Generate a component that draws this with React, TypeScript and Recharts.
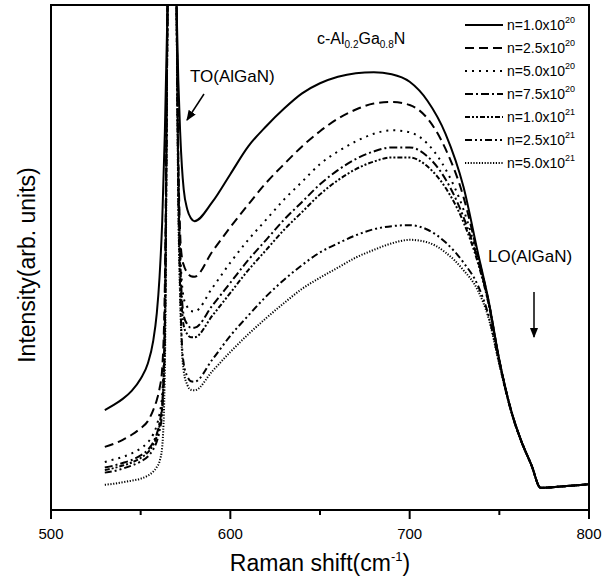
import { LineChart, Line, XAxis, YAxis, ReferenceArea } from "recharts";

// Raman shift (cm^-1) sample positions
const shift = [
  530, 535, 540, 545, 550, 554, 557, 559, 560.5, 562, 563.5, 565,
  567.5, 570, 571, 572, 573, 574, 576, 578, 580,
  590, 600, 610, 620, 630, 640, 650, 660, 670, 680,
  690, 700, 710, 720, 730, 738, 744, 750, 757, 762,
  768, 773, 786, 800,
];

// intensity (arb. units) for each carrier density
const n1e20 = [
  19.8, 20.8, 22, 23.6, 26, 29, 33.5, 39, 46, 57, 75, 100,
  150, 100, 85, 75, 68, 63.5, 59.5, 57.8, 57.2,
  61, 66.5, 72, 76, 79.5, 82.5, 84.5, 85.8, 86.5, 86.7,
  86.3, 84.8, 81, 74.5, 64, 51, 41.5, 29.7, 19.2, 13.9,
  8.8, 4.4, 4.7, 5.1,
];
const n25e20 = [
  12.5, 13.1, 13.9, 14.9, 16.2, 17.6, 19.8, 21.8, 24, 28, 45, 100,
  150, 100, 70, 55, 50, 48.5, 47, 46.3, 46.2,
  51.2, 56, 60.5, 64.8, 68.5, 72, 75, 77.5, 79.3, 80.5,
  80.8, 80.2, 77.5, 71.5, 62, 50.5, 41.3, 29.6, 19.2, 13.9,
  8.8, 4.4, 4.7, 5.1,
];
const n5e20 = [
  9.5, 10, 10.5, 11.2, 12.2, 13.4, 15, 16.8, 19, 23, 40, 100,
  150, 100, 68, 52, 45, 42, 40.2, 39.4, 39.3,
  44, 49, 53.5, 57.5, 61.5, 65, 68.5, 71, 73, 74.5,
  75.2, 74.8, 72.5, 67.5, 59.5, 50, 41.2, 29.6, 19.2, 13.9,
  8.8, 4.4, 4.7, 5.1,
];
const n75e20 = [
  8.4, 8.8, 9.3, 9.9, 10.8, 11.9, 13.4, 15.1, 17.2, 21, 37, 100,
  150, 100, 66, 50, 42, 38.5, 36.8, 36.1, 36.1,
  40.5, 45, 49.5, 53.5, 57.5, 61, 64.5, 67.3, 69.5, 71,
  71.8, 71.8, 70, 65.5, 58, 49.5, 41, 29.5, 19.1, 13.9,
  8.8, 4.4, 4.7, 5.1,
];
const n1e21 = [
  7.9, 8.3, 8.8, 9.4, 10.3, 11.4, 12.9, 14.6, 16.7, 20.5, 36, 100,
  150, 100, 65, 48, 40, 36.5, 34.8, 34.2, 34.2,
  38.5, 43, 47.5, 51.5, 55.5, 59, 62.5, 65.3, 67.5, 69,
  69.8, 69.8, 68, 63.8, 57, 49, 40.8, 29.5, 19.1, 13.9,
  8.8, 4.4, 4.7, 5.1,
];
const n25e21 = [
  7.4, 7.7, 8.2, 8.8, 9.6, 10.6, 12, 13.6, 15.6, 19.5, 34, 100,
  150, 100, 62, 44, 33, 29, 26.5, 25.5, 25.4,
  29.8, 34.5, 38.5, 42.3, 45.6, 48.5, 51, 52.8, 54.4, 55.6,
  56.2, 56.4, 55.5, 53, 49, 44.5, 38.5, 29, 19, 13.8,
  8.8, 4.4, 4.7, 5.1,
];
const n5e21 = [
  5.0, 5.2, 5.5, 5.8, 6.2, 6.8, 7.6, 8.5, 9.6, 12.5, 28, 100,
  150, 100, 60, 42, 31.7, 27.5, 24.8, 23.8, 23.7,
  27.5, 31.3, 34.8, 38, 41, 43.8, 46, 48, 50, 51.5,
  52.8, 53.5, 53, 51, 47.5, 43.5, 38, 28.8, 19, 13.8,
  8.8, 4.4, 4.7, 5.1,
];

const xTicks = [500, 550, 600, 650, 700, 750, 800];

const series = [
  { key: "a", mant: "1.0", exp: "20", values: n1e20, dash: undefined },
  { key: "b", mant: "2.5", exp: "20", values: n25e20, dash: "9 5" },
  { key: "c", mant: "5.0", exp: "20", values: n5e20, dash: "2 5" },
  { key: "d", mant: "7.5", exp: "20", values: n75e20, dash: "8 3 2 3" },
  { key: "e", mant: "1.0", exp: "21", values: n1e21, dash: "5 2 2 2 2 2" },
  { key: "f", mant: "2.5", exp: "21", values: n25e21, dash: "7 3 2 3 2 3" },
  { key: "g", mant: "5.0", exp: "21", values: n5e21, dash: "1.2 1.6" },
];

const rows = shift.map((x, i) => {
  const row: Record<string, number> = { x };
  series.forEach((s) => (row[s.key] = s.values[i]));
  return row;
});

const FONT = "'Liberation Sans', Arial, sans-serif";

function XTick(props: any) {
  const { x, y, payload } = props;
  const major = payload.value % 100 === 0;
  return (
    <g>
      <line x1={x} x2={x} y1={y} y2={y + (major ? 9 : 5)} stroke="#000" strokeWidth={2} />
      {major && (
        <text x={x} y={y + 29} textAnchor="middle" fontSize={15} fontFamily={FONT} fill="#000">
          {payload.value}
        </text>
      )}
    </g>
  );
}

export default function App() {
  return (
    <div style={{ position: "absolute", left: 0, top: 0, width: 613, height: 584, background: "#fff" }}>
      <LineChart width={613} height={584} data={rows} margin={{ top: 5, right: 24, bottom: 0, left: 0 }}>
        <XAxis
          dataKey="x"
          type="number"
          domain={[500, 800]}
          ticks={xTicks}
          interval={0}
          height={74}
          axisLine={false}
          tickLine={false}
          tickSize={0}
          tickMargin={0}
          tick={<XTick />}
          allowDataOverflow
        />
        <YAxis type="number" domain={[0, 100]} width={51} allowDataOverflow axisLine={false} tickLine={false} tick={false} />
        <ReferenceArea x1={500} x2={800} y1={0} y2={100} fill="none" stroke="#000" strokeWidth={2} />
        {series.map((s) => (
          <Line
            key={s.key}
            dataKey={s.key}
            type="monotone"
            stroke="#000"
            strokeWidth={2}
            strokeDasharray={s.dash}
            dot={false}
            activeDot={false}
            isAnimationActive={false}
          />
        ))}
      </LineChart>

      <svg
        width={613}
        height={584}
        style={{ position: "absolute", left: 0, top: 0, pointerEvents: "none" }}
        fontFamily={FONT}
      >
        <defs>
          <marker id="head" viewBox="0 0 10 10" refX="9" refY="5" markerWidth="7" markerHeight="7" orient="auto">
            <path d="M0,1 L10,5 L0,9 z" fill="#000" />
          </marker>
        </defs>

        {/* legend */}
        {series.map((s, i) => {
          const y = 25 + i * 23;
          return (
            <g key={s.key}>
              <line x1={465} x2={503} y1={y} y2={y} stroke="#000" strokeWidth={2} strokeDasharray={s.dash} />
              <text x={507} y={y + 5} fontSize={14} fill="#000">
                n={s.mant}x10
                <tspan dy={-7} fontSize={9}>{s.exp}</tspan>
              </text>
            </g>
          );
        })}

        {/* sample label */}
        <text x={317} y={44} fontSize={16} fill="#000">
          c-Al<tspan dy={4} fontSize={10}>0.2</tspan>
          <tspan dy={-4}>Ga</tspan>
          <tspan dy={4} fontSize={10}>0.8</tspan>
          <tspan dy={-4}>N</tspan>
        </text>

        {/* phonon mode annotations */}
        <text x={190} y={82} fontSize={17} fill="#000">TO(AlGaN)</text>
        <line x1={204} y1={94} x2={187} y2={120} stroke="#000" strokeWidth={1.5} markerEnd="url(#head)" />
        <text x={488} y={262} fontSize={17} fill="#000">LO(AlGaN)</text>
        <line x1={534} y1={292} x2={534} y2={337} stroke="#000" strokeWidth={1.5} markerEnd="url(#head)" />

        {/* axis titles */}
        <text x={320} y={571} fontSize={23} textAnchor="middle" fill="#000">
          Raman shift(cm<tspan dy={-10} fontSize={13}>-1</tspan>
          <tspan dy={10}>)</tspan>
        </text>
        <text
          x={27}
          y={265}
          fontSize={23}
          textAnchor="middle"
          dominantBaseline="central"
          transform="rotate(-90 27 265)"
          fill="#000"
        >
          Intensity(arb. units)
        </text>
      </svg>
    </div>
  );
}
